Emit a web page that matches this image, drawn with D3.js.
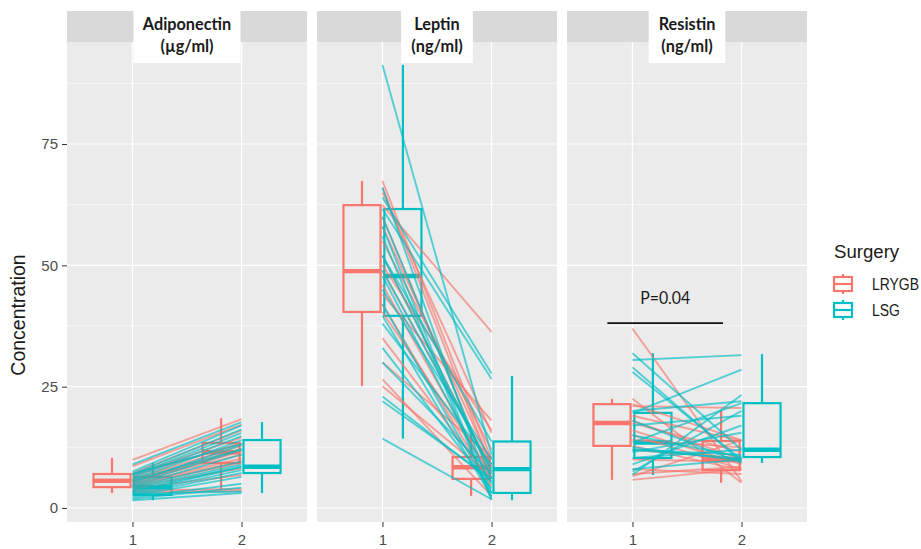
<!DOCTYPE html>
<html>
<head>
<meta charset="utf-8">
<script src="https://cdnjs.cloudflare.com/ajax/libs/d3/7.8.5/d3.min.js"></script>
<style>
  body { margin: 0; background: #fff; }
  text { font-family: "Liberation Sans", Arial, sans-serif; }
</style>
</head>
<body>
<svg id="chart" width="921" height="549"></svg>
<script>
var groups = ['LRYGB', 'LSG'];
var groupColors = ['#F8766D', '#00BFC4'];
var times = [1, 2];
var hormones = ['Adiponectin', 'Leptin', 'Resistin'];
var units = ['(µg/ml)', '(ng/ml)', '(ng/ml)'];
var yTicks = [0, 25, 50, 75];
var yMinor = [12.5, 37.5, 62.5, 87.5];

// box stats: [lower whisker, q1, median, q3, upper whisker], [group][time]
var adipoBoxes = [
  [[3.1, 4.3, 5.6, 7.0, 10.3], [3.7, 9.3, 11.5, 13.4, 18.5]],
  [[1.6, 2.7, 4.3, 6.4, 9.3], [3.1, 7.2, 8.5, 14.0, 17.7]]
];
var leptinBoxes = [
  [[25.1, 40.4, 48.8, 62.4, 67.4], [2.5, 6.0, 8.4, 10.5, 15.5]],
  [[14.3, 39.6, 47.8, 61.6, 91.3], [1.6, 3.1, 8.0, 13.7, 27.2]]
];
var resistinBoxes = [
  [[5.8, 12.8, 17.5, 21.4, 22.5], [5.2, 7.8, 10.0, 13.8, 20.2]],
  [[6.8, 10.3, 13.5, 19.6, 31.9], [9.3, 10.5, 12.0, 21.6, 31.7]]
];

// paired subjects: [time 1, time 2]
var adipoLRYGB = [[9.9, 18.3], [8.6, 17.2], [7.2, 16.0], [6.8, 14.5], [6.5, 13.4], [6.0, 12.8],
  [5.8, 12.2], [5.6, 11.6], [5.4, 11.0], [5.0, 10.2], [4.8, 9.6], [4.5, 9.3], [4.3, 8.2],
  [4.0, 6.8], [3.6, 3.9], [3.2, 3.5], [5.2, 12.0], [7.0, 13.2]];
var adipoLSG = [[9.0, 17.7], [7.5, 17.0], [7.0, 16.2], [6.6, 15.5], [6.2, 14.8], [5.8, 14.0],
  [5.2, 13.0], [4.8, 12.0], [4.5, 11.0], [4.3, 9.6], [4.0, 9.0], [3.6, 8.6], [3.3, 8.4],
  [3.0, 7.8], [2.7, 7.2], [2.5, 6.4], [2.2, 5.0], [1.9, 4.2], [1.6, 3.1], [2.9, 3.4],
  [5.6, 12.2], [7.0, 13.2]];
var leptinLRYGB = [[67.4, 10.0], [66.0, 8.5], [65.0, 15.5], [62.4, 36.3], [58.0, 9.0], [55.0, 12.0],
  [52.0, 7.5], [48.8, 8.4], [46.0, 6.0], [44.0, 18.0], [42.0, 4.5], [40.4, 7.0], [35.0, 5.5],
  [30.0, 10.5], [26.5, 2.5], [25.1, 6.5], [50.0, 16.0], [60.0, 6.0]];
var leptinLSG = [[91.3, 11.0], [66.0, 3.0], [64.0, 27.7], [61.6, 26.6], [58.0, 2.0], [56.0, 1.6],
  [52.0, 13.7], [49.0, 8.0], [47.8, 5.0], [45.0, 10.0], [42.0, 3.1], [39.6, 2.4], [38.0, 9.0],
  [33.0, 4.0], [30.0, 7.0], [23.0, 5.5], [22.0, 6.0], [14.3, 1.8], [60.0, 6.0], [52.0, 7.5]];
var resistinLRYGB = [[37.0, 5.5], [22.5, 5.2], [21.4, 14.0], [21.0, 20.6], [19.0, 13.8], [18.0, 10.0],
  [17.5, 11.5], [16.0, 9.0], [15.0, 8.0], [14.0, 12.5], [12.8, 7.8], [10.0, 9.5], [8.0, 7.0],
  [7.0, 8.5], [5.8, 8.0], [6.5, 14.0], [12.0, 10.2]];
var resistinLSG = [[31.9, 12.0], [30.5, 31.5], [29.0, 9.5], [28.0, 10.0], [20.0, 22.0], [19.6, 28.5],
  [18.0, 9.3], [17.0, 19.0], [15.0, 10.5], [13.5, 21.6], [12.0, 11.0], [11.5, 15.5], [10.3, 12.0],
  [9.0, 17.0], [8.0, 10.0], [7.5, 20.0], [6.8, 23.3], [12.5, 9.8], [12.0, 10.2]];

var boxData = [adipoBoxes, leptinBoxes, resistinBoxes];
var lineData = [[adipoLRYGB, adipoLSG], [leptinLRYGB, leptinLSG], [resistinLRYGB, resistinLSG]];

// significance bar in the Resistin panel
var pLabel = 'P=0.04';
var pBar = {panel: 2, from: 0.77, to: 1.83, value: 38.1};

var svg = d3.select('#chart');
var panelLeft = [67, 317, 567];
var panelW = 240, panelTop = 42, panelBottom = 522, stripTop = 11;

var y = d3.scaleLinear().domain([-2.885, 96.02]).range([panelBottom, panelTop]);

function squeeze(sel, sx) {
  sel.attr('transform', function() {
    var t = d3.select(this);
    return 'translate(' + t.attr('x') + ',' + t.attr('y') + ') scale(' + sx + ',1)';
  }).attr('x', 0).attr('y', 0);
}

hormones.forEach(function(name, p) {
  var x = d3.scaleLinear().domain([0.4, 2.6]).range([panelLeft[p], panelLeft[p] + panelW]);
  var step = x(2) - x(1);
  var g = svg.append('g');

  g.append('rect')
    .attr('x', panelLeft[p]).attr('y', panelTop)
    .attr('width', panelW).attr('height', panelBottom - panelTop)
    .attr('fill', '#ebebeb');

  // grid
  g.selectAll('.minor').data(yMinor).enter().append('line')
    .attr('x1', panelLeft[p]).attr('x2', panelLeft[p] + panelW)
    .attr('y1', y).attr('y2', y)
    .attr('stroke', '#fff').attr('stroke-width', 0.6);
  g.selectAll('.major').data(yTicks).enter().append('line')
    .attr('x1', panelLeft[p]).attr('x2', panelLeft[p] + panelW)
    .attr('y1', y).attr('y2', y)
    .attr('stroke', '#fff').attr('stroke-width', 1.2);
  g.selectAll('.vgrid').data(times).enter().append('line')
    .attr('x1', x).attr('x2', x)
    .attr('y1', panelTop).attr('y2', panelBottom)
    .attr('stroke', '#fff').attr('stroke-width', 1.2);

  // boxes, dodged by group
  groups.forEach(function(grp, gi) {
    var off = (gi === 0 ? -0.1875 : 0.1875) * step;
    var half = 0.17 * step;
    boxData[p][gi].forEach(function(s, ti) {
      var cx = x(times[ti]) + off;
      var bg = g.append('g').attr('stroke', groupColors[gi]).attr('fill', 'none');
      bg.append('line').attr('x1', cx).attr('x2', cx).attr('y1', y(s[4])).attr('y2', y(s[3]))
        .attr('stroke-width', 2.2);
      bg.append('line').attr('x1', cx).attr('x2', cx).attr('y1', y(s[1])).attr('y2', y(s[0]))
        .attr('stroke-width', 2.2);
      bg.append('rect').attr('x', cx - half).attr('y', y(s[3]))
        .attr('width', half * 2).attr('height', y(s[1]) - y(s[3]))
        .attr('stroke-width', 2.2);
      bg.append('line').attr('x1', cx - half).attr('x2', cx + half)
        .attr('y1', y(s[2])).attr('y2', y(s[2]))
        .attr('stroke-width', 4.4);
    });
  });

  // paired subject lines
  groups.forEach(function(grp, gi) {
    g.selectAll('.pair' + gi).data(lineData[p][gi]).enter().append('line')
      .attr('x1', x(1)).attr('x2', x(2))
      .attr('y1', function(d) { return y(d[0]); })
      .attr('y2', function(d) { return y(d[1]); })
      .attr('stroke', groupColors[gi])
      .attr('stroke-opacity', 0.65)
      .attr('stroke-width', 1.9);
  });

  // strip
  g.append('rect')
    .attr('x', panelLeft[p]).attr('y', stripTop)
    .attr('width', panelW).attr('height', panelTop - stripTop)
    .attr('fill', '#d9d9d9');
  var label = g.append('g');
  var lbox = label.append('rect').attr('fill', '#fff');
  var cx = panelLeft[p] + panelW / 2;
  label.selectAll('text').data([name, units[p]]).enter().append('text')
    .attr('x', cx).attr('y', function(d, i) { return 30 + i * 22; })
    .attr('text-anchor', 'middle')
    .style('font-family', 'Lato, sans-serif')
    .style('font-weight', 'bold')
    .style('font-size', '17.5px')
    .attr('fill', '#1a1a1a')
    .text(function(d) { return d; })
    .call(squeeze, 0.93);
  var bb = label.node().getBBox();
  var tw = bb.width * 0.93;
  lbox.attr('x', cx - tw / 2 - 12).attr('y', stripTop)
    .attr('width', tw + 24).attr('height', 63 - stripTop);

  // x axis
  var xa = g.append('g').attr('transform', 'translate(0,' + panelBottom + ')')
    .call(d3.axisBottom(x).tickValues(times).tickSize(5).tickPadding(7).tickFormat(d3.format('d')));
  xa.select('.domain').remove();
  xa.selectAll('line').attr('stroke', '#333');
  xa.selectAll('text').style('font-size', '15px').style('font-family', '"Liberation Sans", Arial, sans-serif').attr('fill', '#4d4d4d');

  if (p === pBar.panel) {
    g.append('line')
      .attr('x1', x(pBar.from)).attr('x2', x(pBar.to))
      .attr('y1', y(pBar.value)).attr('y2', y(pBar.value))
      .attr('stroke', '#111').attr('stroke-width', 1.6);
    g.append('text')
      .attr('x', (x(pBar.from) + x(pBar.to)) / 2).attr('y', y(pBar.value) - 19)
      .attr('text-anchor', 'middle')
      .style('font-family', 'Lato, sans-serif')
      .style('font-size', '18px')
      .attr('fill', '#1a1a1a')
      .text(pLabel)
      .call(squeeze, 0.88);
  }
});

// y axis
var ya = svg.append('g').attr('transform', 'translate(' + panelLeft[0] + ',0)')
  .call(d3.axisLeft(y).tickValues(yTicks).tickSize(5).tickPadding(4));
ya.select('.domain').remove();
ya.selectAll('line').attr('stroke', '#333');
ya.selectAll('text').style('font-size', '15px').style('font-family', '"Liberation Sans", Arial, sans-serif').attr('fill', '#4d4d4d');

svg.append('text')
  .attr('transform', 'translate(25,315) rotate(-90)')
  .attr('text-anchor', 'middle')
  .style('font-size', '19.5px')
  .attr('fill', '#1a1a1a')
  .text('Concentration');

// legend
var legend = svg.append('g');
legend.append('text').attr('x', 834).attr('y', 258)
  .style('font-size', '19px').attr('fill', '#1a1a1a')
  .text('Surgery').call(squeeze, 0.98);
groups.forEach(function(grp, gi) {
  var cy = 284 + gi * 26;
  var k = legend.append('g').attr('stroke', groupColors[gi]).attr('fill', 'none').attr('stroke-width', 2.2);
  k.append('line').attr('x1', 843).attr('x2', 843).attr('y1', cy - 10).attr('y2', cy + 10);
  k.append('rect').attr('x', 834).attr('y', cy - 7).attr('width', 18).attr('height', 14).attr('fill', '#fff');
  k.append('line').attr('x1', 834).attr('x2', 852).attr('y1', cy).attr('y2', cy);
  legend.append('text').attr('x', 872).attr('y', cy + 6)
    .style('font-size', '17px').attr('fill', '#1a1a1a')
    .text(grp).call(squeeze, 0.82);
});
</script>
</body>
</html>
